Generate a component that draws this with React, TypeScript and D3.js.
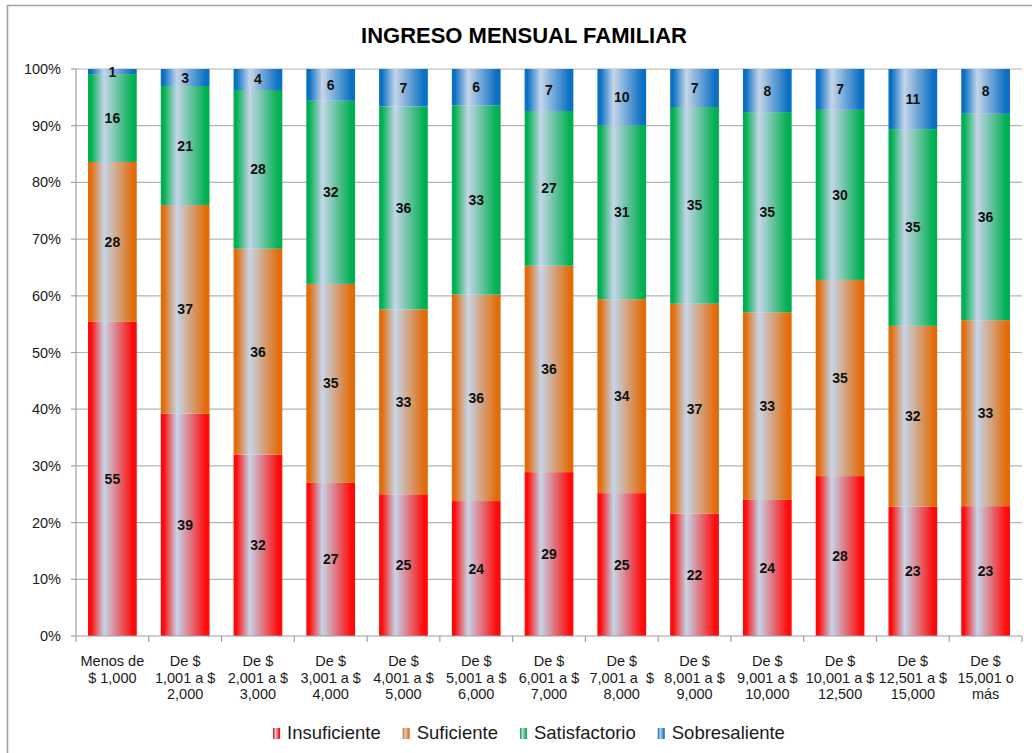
import React, { useEffect, useRef } from "react";
import * as d3 from "d3";

const categories = [
  "Menos de\n$ 1,000",
  "De $\n1,001 a $\n2,000",
  "De $\n2,001 a $\n3,000",
  "De $\n3,001 a $\n4,000",
  "De $\n4,001 a $\n5,000",
  "De $\n5,001 a $\n6,000",
  "De $\n6,001 a $\n7,000",
  "De $\n7,001 a  $\n8,000",
  "De $\n8,001 a $\n9,000",
  "De $\n9,001 a $\n10,000",
  "De $\n10,001 a $\n12,500",
  "De $\n12,501 a $\n15,000",
  "De $\n15,001 o\nmás",
];

const insuficiente = [55.4, 39.2, 32.0, 27.0, 25.0, 23.8, 28.9, 25.2, 21.6, 24.0, 28.2, 22.8, 22.9];
const suficiente = [28.2, 36.8, 36.3, 35.1, 32.6, 36.4, 36.4, 34.2, 37.0, 33.1, 34.6, 31.9, 32.8];
const satisfactorio = [15.5, 21.0, 28.0, 32.3, 35.8, 33.4, 27.3, 30.7, 34.7, 35.3, 30.0, 34.7, 36.4];
const sobresaliente = [0.9, 3.0, 3.7, 5.6, 6.6, 6.4, 7.4, 9.9, 6.7, 7.6, 7.2, 10.6, 7.9];

const seriesNames = ["Insuficiente", "Suficiente", "Satisfactorio", "Sobresaliente"];
const seriesColors = ["#ff0a0a", "#e36c0a", "#00b050", "#0a70c4"];
const yTicks = [0, 10, 20, 30, 40, 50, 60, 70, 80, 90, 100];
const title = "INGRESO MENSUAL FAMILIAR";

const FONT = "'Liberation Sans', Arial, sans-serif";

export default function App() {
  const ref = useRef<SVGSVGElement>(null);

  useEffect(() => {
    const svg = d3.select(ref.current);
    svg.selectAll("*").remove();

    const W = 1032, H = 753;
    const left = 76, right = 1022, top = 69, bottom = 636;

    const seriesValues = [insuficiente, suficiente, satisfactorio, sobresaliente];
    const rows = categories.map((c, i) => {
      const r: any = { cat: c };
      seriesNames.forEach((s, k) => (r[s] = seriesValues[k][i]));
      return r;
    });
    const stack = d3.stack().keys(seriesNames).offset(d3.stackOffsetExpand);
    const stacked = stack(rows);

    const x = d3.scaleBand().domain(categories).range([left, right]).paddingInner(0.33).paddingOuter(0.165);
    const y = d3.scaleLinear().domain([0, 100]).range([bottom, top]);

    // gradients
    const defs = svg.append("defs");
    seriesColors.forEach((col, k) => {
      const g = defs.append("linearGradient").attr("id", "grad" + k).attr("x1", "0").attr("x2", "1").attr("y1", "0").attr("y2", "0");
      g.append("stop").attr("offset", "0%").attr("stop-color", col);
      g.append("stop").attr("offset", "6%").attr("stop-color", col);
      g.append("stop").attr("offset", "33%").attr("stop-color", "#c5d5e9");
      g.append("stop").attr("offset", "92%").attr("stop-color", col);
      g.append("stop").attr("offset", "100%").attr("stop-color", col);
    });

    svg.append("rect").attr("width", W).attr("height", H).attr("fill", "#fff");
    // outer frame
    svg.append("rect").attr("x", 7.5).attr("y", 5.5).attr("width", W + 20).attr("height", H + 20)
      .attr("fill", "none").attr("stroke", "#a0a0a0").attr("stroke-width", 1.5);

    // title
    svg.append("text").attr("x", 524).attr("y", 43).attr("text-anchor", "middle")
      .attr("font-family", FONT).attr("font-weight", "bold").attr("font-size", 22).attr("fill", "#000")
      .text(title);

    // gridlines
    svg.append("g").selectAll("line").data(yTicks.filter((t) => t > 0)).join("line")
      .attr("x1", left).attr("x2", right).attr("y1", (d) => y(d)).attr("y2", (d) => y(d))
      .attr("stroke", "#b3b3b3").attr("stroke-width", 1.2);

    // y axis
    svg.append("line").attr("x1", left).attr("x2", left).attr("y1", top).attr("y2", bottom)
      .attr("stroke", "#9e9e9e").attr("stroke-width", 1.2);
    svg.append("g").selectAll("line").data(yTicks).join("line")
      .attr("x1", left - 5).attr("x2", left).attr("y1", (d) => y(d)).attr("y2", (d) => y(d))
      .attr("stroke", "#9e9e9e").attr("stroke-width", 1.2);
    svg.append("g").selectAll("text").data(yTicks).join("text")
      .attr("x", 61).attr("y", (d) => y(d) + 5).attr("text-anchor", "end")
      .attr("font-family", FONT).attr("font-size", 14.5).attr("fill", "#1a1a1a")
      .text((d) => d + "%");

    // bars
    const barsG = svg.append("g");
    stacked.forEach((layer, k) => {
      barsG.append("g").selectAll("rect").data(layer).join("rect")
        .attr("x", (d: any) => x(d.data.cat)!)
        .attr("width", x.bandwidth())
        .attr("y", (d: any) => y(d[1] * 100))
        .attr("height", (d: any) => y(d[0] * 100) - y(d[1] * 100))
        .attr("fill", `url(#grad${k})`);
    });

    // x axis
    svg.append("line").attr("x1", left).attr("x2", right).attr("y1", bottom).attr("y2", bottom)
      .attr("stroke", "#9e9e9e").attr("stroke-width", 1.2);
    const step = x.step();
    svg.append("g").selectAll("line").data(d3.range(categories.length + 1)).join("line")
      .attr("x1", (i) => left + i * step).attr("x2", (i) => left + i * step)
      .attr("y1", bottom).attr("y2", bottom + 6)
      .attr("stroke", "#9e9e9e").attr("stroke-width", 1.2);

    // data labels
    const lblG = svg.append("g");
    stacked.forEach((layer, k) => {
      lblG.append("g").selectAll("text").data(layer).join("text")
        .attr("x", (d: any) => x(d.data.cat)! + x.bandwidth() / 2)
        .attr("y", (d: any) => (y(d[0] * 100) + y(d[1] * 100)) / 2 + 5)
        .attr("text-anchor", "middle")
        .attr("font-family", FONT).attr("font-weight", "bold").attr("font-size", 14).attr("fill", "#111")
        .text((d: any) => Math.round(seriesValues[k][categories.indexOf(d.data.cat)]));
    });

    // category labels
    const catG = svg.append("g");
    categories.forEach((c) => {
      const t = catG.append("text").attr("text-anchor", "middle")
        .attr("font-family", FONT).attr("font-size", 14.5).attr("fill", "#1a1a1a")
        .attr("xml:space", "preserve").style("white-space", "pre");
      c.split("\n").forEach((line, li) => {
        t.append("tspan").attr("x", x(c)! + x.bandwidth() / 2).attr("y", 666 + li * 16.5).text(line);
      });
    });

    // legend
    const legG = svg.append("g");
    const items: { g: any; w: number }[] = [];
    seriesNames.forEach((s, k) => {
      const g = legG.append("g");
      g.append("rect").attr("x", 0).attr("y", 728).attr("width", 7).attr("height", 11).attr("fill", `url(#grad${k})`);
      const t = g.append("text").attr("x", 14).attr("y", 739)
        .attr("font-family", FONT).attr("font-size", 18.5).attr("fill", "#1a1a1a").text(s);
      const tw = (t.node() as SVGTextElement).getComputedTextLength();
      items.push({ g, w: 14 + tw });
    });
    const gap = 22;
    const total = d3.sum(items, (d) => d.w) + gap * (items.length - 1);
    let cx = 529 - total / 2;
    items.forEach((it) => {
      it.g.attr("transform", `translate(${cx},0)`);
      cx += it.w + gap;
    });
  }, []);

  return (
    <div style={{ position: "absolute", left: 0, top: 0 }}>
      <svg ref={ref} width={1032} height={753} style={{ display: "block" }} />
    </div>
  );
}
